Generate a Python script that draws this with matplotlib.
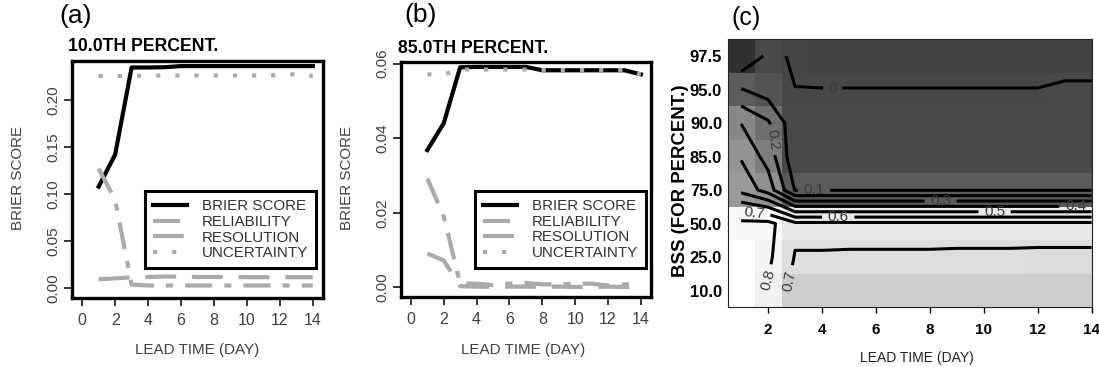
import matplotlib
matplotlib.use('Agg')
import matplotlib.pyplot as plt
import numpy as np
from matplotlib.colors import LinearSegmentedColormap, Normalize

plt.rcParams['font.family'] = ['Liberation Sans', 'DejaVu Sans']

# lead times (days)
dias = np.arange(1, 15)

# painel (a): 10.0th percentile
bs_a = [0.108, 0.142, 0.2345, 0.2345, 0.2348, 0.236, 0.236, 0.236, 0.236, 0.236, 0.236, 0.236, 0.236, 0.236]
rel_a = [0.127, 0.094, 0.004, 0.003, 0.003, 0.003, 0.003, 0.003, 0.003, 0.003, 0.003, 0.003, 0.003, 0.003]
res_a = [0.0096, 0.0105, 0.0117, 0.012, 0.0125, 0.0125, 0.012, 0.012, 0.012, 0.0118, 0.0118, 0.0118, 0.0118, 0.0118]
unc_a = [0.2255, 0.2255, 0.2255, 0.226, 0.226, 0.226, 0.226, 0.226, 0.226, 0.226, 0.226, 0.2265, 0.2275, 0.2255]

# painel (b): 85.0th percentile
bs_b = [0.0368, 0.044, 0.059, 0.0591, 0.0591, 0.0591, 0.0591, 0.0582, 0.0582, 0.0582, 0.0582, 0.0582, 0.0582, 0.0571]
rel_b = [0.0292, 0.019, 0.001, 0.001, 0.0006, 0.001, 0.0012, 0.0008, 0.0008, 0.001, 0.001, 0.0005, 0.0008, 0.0008]
res_b = [0.0091, 0.0072, 0.0003, 0.0002, 0.0001, 0.0002, 0.0002, 0.0001, 0.0002, 0.0001, 0.0001, 0.0002, 0.0001, 0.0001]
unc_b = [0.0571, 0.0571, 0.0584, 0.0584, 0.0584, 0.0584, 0.0584, 0.0583, 0.0583, 0.0583, 0.0583, 0.0583, 0.0583, 0.0571]

# painel (c): BSS por percentil (linhas de baixo para cima)
percentis = ['10.0', '25.0', '50.0', '75.0', '85.0', '90.0', '95.0', '97.5']
bss_p10 = [0.86, 0.79] + [0.665] * 12
bss_p25 = [0.86, 0.82, 0.695, 0.695, 0.694, 0.694, 0.694, 0.694, 0.693, 0.693, 0.693, 0.692, 0.692, 0.692]
bss_p50 = [0.83, 0.83] + [0.72] * 12
bss_p75 = [0.47, 0.358] + [0.095] * 12
bss_p85 = [0.391, 0.26] + [0.03] * 12
bss_p90 = [0.298, 0.213] + [0.03] * 12
bss_p95 = [0.105, 0.052] + [0.001] * 10 + [0.007, 0.007]
bss_p975 = [-0.09, 0.02, -0.01] + [-0.02] * 11
niveis = [0, 0.1, 0.2, 0.3, 0.4, 0.5, 0.6, 0.7, 0.8]

CINZA = '#aaaaaa'
TEXTO = '#404040'


def painel_brier(ax, bs, rel, res, unc, ylim, yticks, pos_leg):
    """Desenha as curvas de Brier score e componentes num painel."""
    ax.plot(dias, bs, color='black', lw=3, label='BRIER SCORE')
    ax.plot(dias, rel, color=CINZA, lw=3, ls=(0, (6.5, 2.9, 1.7, 2.9)), label='RELIABILITY')
    ax.plot(dias, res, color=CINZA, lw=3, ls=(0, (7.4, 3.8)), label='RESOLUTION')
    ax.plot(dias, unc, color=CINZA, lw=3, ls=(0, (1, 3.6)), label='UNCERTAINTY')

    ax.set_xlim(-0.6, 14.6)
    ax.set_ylim(*ylim)
    ax.set_xticks(range(0, 15, 2))
    ax.set_yticks(yticks)
    ax.set_yticklabels([f'{t:.2f}' for t in yticks], rotation=90, va='center')
    for s in ax.spines.values():
        s.set_linewidth(2.4)
    ax.tick_params(direction='out', length=6, width=1.1, labelsize=11, labelcolor=TEXTO)
    ax.tick_params(axis='x', pad=5, labelsize=11.5)
    ax.tick_params(axis='y', pad=2.5)

    leg = ax.legend(loc='lower left', bbox_to_anchor=pos_leg, borderaxespad=0, fontsize=10.9,
                    handlelength=2.2, handletextpad=1.0, labelspacing=0.1, borderpad=0.55,
                    fancybox=False, edgecolor='black', framealpha=1)
    leg.get_frame().set_linewidth(2.2)
    for t in leg.get_texts():
        t.set_color('#333333')


fig = plt.figure(figsize=(10.99, 3.67), dpi=100)

ax1 = fig.add_axes([0.0658, 0.1888, 0.2278, 0.6450])
painel_brier(ax1, bs_a, rel_a, res_a, unc_a, (-0.010, 0.2414),
             [0, 0.05, 0.10, 0.15, 0.20], (0.29, 0.124))

ax2 = fig.add_axes([0.3649, 0.1916, 0.2272, 0.6403])
painel_brier(ax2, bs_b, rel_b, res_b, unc_b, (-0.0025, 0.0605),
             [0, 0.02, 0.04, 0.06], (0.296, 0.121))

# mapa de cinzas do BSS
ancoras = [(-0.10, 46), (-0.09, 51), (0.0, 72), (0.03, 74), (0.05, 84), (0.10, 92),
           (0.21, 110), (0.26, 126), (0.30, 138), (0.36, 146), (0.39, 148), (0.47, 154),
           (0.665, 206), (0.695, 222), (0.72, 234), (0.79, 240), (0.82, 243), (0.83, 248),
           (0.86, 255), (0.90, 255)]
vmin, vmax = -0.1, 0.9
cmap = LinearSegmentedColormap.from_list(
    'bss', [((v - vmin) / (vmax - vmin), (g / 255, g / 255, g / 255)) for v, g in ancoras])

bss = np.array([bss_p10, bss_p25, bss_p50, bss_p75, bss_p85, bss_p90, bss_p95, bss_p975])
linhas = np.arange(len(percentis))

ax3 = fig.add_axes([0.6621, 0.1627, 0.3312, 0.7302])
ax3.imshow(bss, cmap=cmap, norm=Normalize(vmin, vmax), origin='lower', aspect='auto',
           interpolation='nearest', extent=(0.5, 14.5, -0.5, 7.5))
cs = ax3.contour(dias, linhas, bss, levels=niveis, colors='black', linewidths=2.2)
ax3.clabel(cs, fontsize=11, colors='#3a3a3a', inline=True, fmt=lambda v: f'{v:g}',
           manual=[(4.4, 6.05), (3.7, 2.99), (2.17, 4.5), (8.4, 2.67), (13.4, 2.51),
                   (10.4, 2.35), (4.6, 2.19), (1.5, 2.33), (1.9, 0.35), (2.8, 0.3)])
ax3.set_xlim(0.5, 14)
ax3.set_ylim(-0.5, 7.5)
ax3.set_xticks(range(2, 15, 2))
ax3.set_yticks(linhas)
ax3.set_yticklabels(percentis)
ax3.tick_params(axis='x', length=4.5, width=1, pad=7, labelsize=11)
ax3.tick_params(axis='y', length=0, pad=4, labelsize=12)
for lab in ax3.get_xticklabels() + ax3.get_yticklabels():
    lab.set_fontweight('bold')
for s in ax3.spines.values():
    s.set_linewidth(0.8)
    s.set_color('#222222')

# textos
fig.text(0.0692, 0.956, '(a)', fontsize=19, ha='center', va='center')
fig.text(0.383, 0.959, '(b)', fontsize=19, ha='center', va='center')
fig.text(0.6785, 0.950, '(c)', fontsize=18, ha='center', va='center')
fig.text(0.0622, 0.8728, '10.0TH PERCENT.', fontsize=12.7, fontweight='bold', va='center')
fig.text(0.3624, 0.869, '85.0TH PERCENT.', fontsize=12.7, fontweight='bold', va='center')
fig.text(0.0167, 0.514, 'BRIER SCORE', fontsize=10.9, color=TEXTO, rotation=90, ha='center', va='center')
fig.text(0.3155, 0.514, 'BRIER SCORE', fontsize=10.9, color=TEXTO, rotation=90, ha='center', va='center')
fig.text(0.6188, 0.507, 'BSS (FOR PERCENT.)', fontsize=13.4, fontweight='bold', rotation=90,
         ha='center', va='center')
fig.text(0.1793, 0.0463, 'LEAD TIME (DAY)', fontsize=10.9, color=TEXTO, ha='center', va='center')
fig.text(0.4762, 0.0463, 'LEAD TIME (DAY)', fontsize=10.9, color=TEXTO, ha='center', va='center')
fig.text(0.834, 0.0245, 'LEAD TIME (DAY)', fontsize=10, color='#222222', ha='center', va='center')

fig.savefig('out.png', dpi=100)
